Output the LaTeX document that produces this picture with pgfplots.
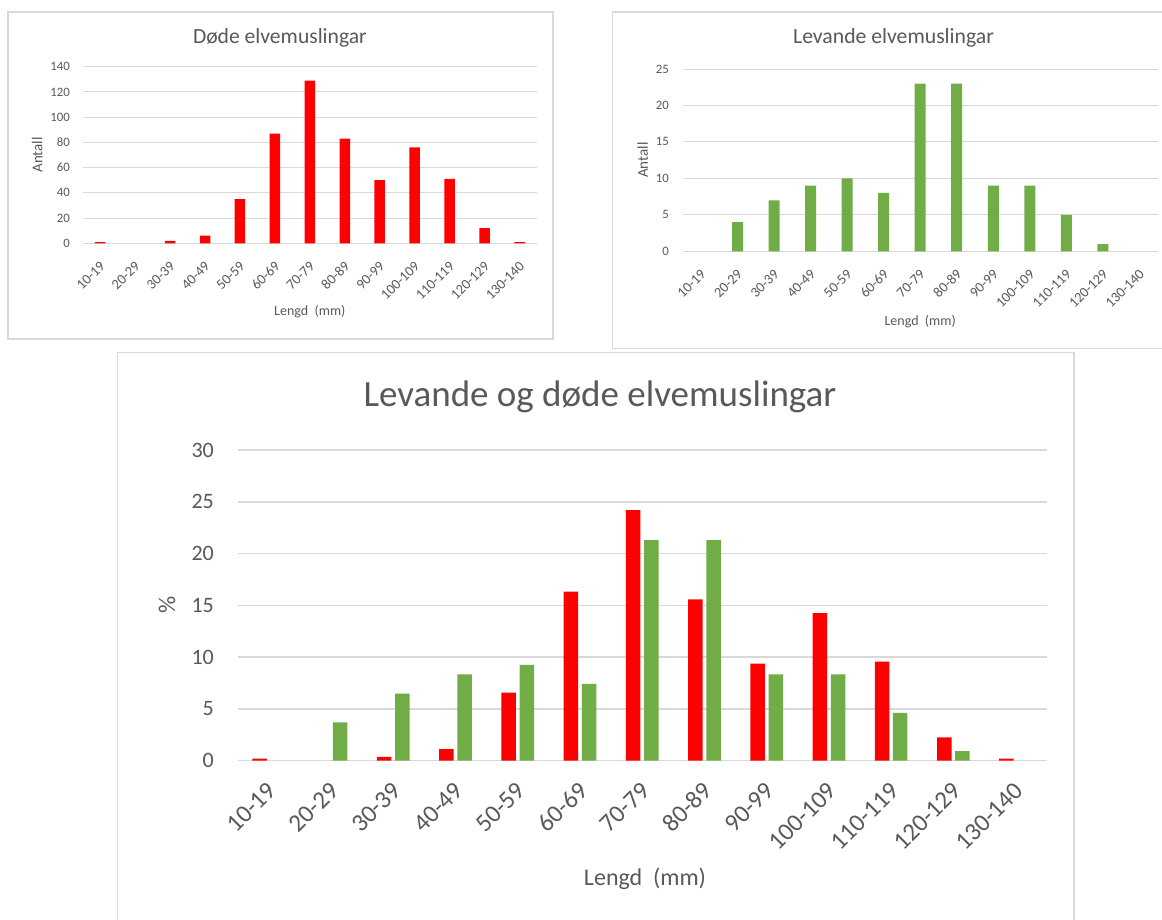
\documentclass[border=0pt]{standalone}
\usepackage{pgfplots}
\pgfplotsset{compat=1.18}
\usepackage{fontspec}
\setmainfont{Carlito}
\definecolor{txt}{HTML}{595959}
\definecolor{gridc}{HTML}{D9D9D9}
\definecolor{boxc}{HTML}{D9D9D9}
\definecolor{dred}{HTML}{FF0000}
\definecolor{lgreen}{HTML}{70AD47}

\pgfplotsset{
  mybase/.style={
    scale only axis, anchor=south west,
    xmin=-0.5, xmax=12.5, ymin=0,
    xtick={0,...,12},
    xticklabels={10-19,20-29,30-39,40-49,50-59,60-69,70-79,80-89,90-99,100-109,110-119,120-129,130-140},
    axis line style={draw=none}, tick style={draw=none},
    ymajorgrids, 
    /pgf/number format/assume math mode=true,
    ybar, 
    every axis title/.style={at={(0.5,1)}, anchor=center, text=txt},
    every axis x label/.style={at={(axis description cs:0.5,0)}, anchor=center, text=txt},
    every axis y label/.style={at={(axis description cs:0,0.5)}, anchor=center, text=txt},
  }
}

\begin{document}
\begin{tikzpicture}
\useasboundingbox (0pt,0pt) rectangle (1162pt,-920pt);
\fill[white] (0pt,0pt) rectangle (1162pt,-920pt);
% frames
\draw[boxc, line width=1.3pt] (8pt,-12pt) rectangle (553pt,-339pt);
\draw[boxc, line width=1.3pt] (612.7pt,-12pt) rectangle (1175pt,-348.5pt);
\draw[boxc, line width=1.5pt] (117.5pt,-352.7pt) rectangle (1074pt,-935pt);

% ---------- Døde ----------
\begin{axis}[mybase,
  at={(82.7pt,-243.3pt)}, width=454.3pt, height=176.6pt,
  ymax=140, ytick={0,20,...,140},
  grid style={gridc, line width=0.9pt},
  yticklabel style={font=\fontsize{12.8}{14}\selectfont, text=txt, inner sep=0pt, xshift=-12.7pt},
  xticklabel style={font=\fontsize{14.3}{16}\selectfont, text=txt, inner sep=0pt, xshift=2.5pt, yshift=-16pt, rotate=45, anchor=east},
  bar width=10.5pt,
  title={Døde elvemuslingar},
  title style={font=\fontsize{21.6}{25}\selectfont, xshift=-30pt, yshift=29pt},
  xlabel={Lengd\ \ (mm)},
  xlabel style={font=\fontsize{14}{16}\selectfont, yshift=-68.4pt},
  ylabel={Antall},
  ylabel style={font=\fontsize{15}{17}\selectfont, xshift=-45.4pt, rotate=90},
]
\addplot[fill=dred, draw=none] coordinates {(0,1) (2,2) (3,6) (4,35) (5,87) (6,129) (7,83) (8,50) (9,76) (10,51) (11,12) (12,1)};
\end{axis}

% ---------- Levande ----------
\begin{axis}[mybase,
  at={(682.7pt,-251.3pt)}, width=475pt, height=182.3pt,
  ymax=25, ytick={0,5,...,25},
  grid style={gridc, line width=0.9pt},
  yticklabel style={font=\fontsize{12.8}{14}\selectfont, text=txt, inner sep=0pt, xshift=-13.7pt},
  xticklabel style={font=\fontsize{14.3}{16}\selectfont, text=txt, inner sep=0pt, xshift=2.5pt, yshift=-16pt, rotate=45, anchor=east},
  bar width=11pt,
  title={Levande elvemuslingar},
  title style={font=\fontsize{21.7}{25}\selectfont, xshift=-26.7pt, yshift=30.7pt},
  xlabel={Lengd\ \ (mm)},
  xlabel style={font=\fontsize{14}{16}\selectfont, yshift=-70.4pt},
  ylabel={Antall},
  ylabel style={font=\fontsize{15}{17}\selectfont, xshift=-40pt, rotate=90},
]
\addplot[fill=lgreen, draw=none] coordinates {(1,4) (2,7) (3,9) (4,10) (5,8) (6,23) (7,23) (8,9) (9,9) (10,5) (11,1)};
\end{axis}

% ---------- Levande og døde (%) ----------
\begin{axis}[mybase,
  at={(237.7pt,-760.7pt)}, width=809pt, height=310.7pt,
  ymax=30, ytick={0,5,...,30},
  ybar=3.7pt,
  grid style={gridc, line width=1.5pt},
  yticklabel style={font=\fontsize{22}{25}\selectfont, text=txt, inner sep=0pt, xshift=-23.7pt},
  xticklabel style={font=\fontsize{25}{28}\selectfont, text=txt, inner sep=0pt, xshift=3.5pt, yshift=-21.5pt, rotate=45, anchor=east},
  bar width=14.5pt,
  title={Levande og døde elvemuslingar},
  title style={font=\fontsize{37}{42}\selectfont, xshift=-42.2pt, yshift=53pt},
  xlabel={Lengd\ \ (mm)},
  xlabel style={font=\fontsize{24}{28}\selectfont, xshift=2.8pt, yshift=-118.3pt},
  ylabel={\%},
  ylabel style={font=\fontsize{24}{28}\selectfont, xshift=-70.7pt, rotate=90},
]
\addplot[fill=dred, draw=none] coordinates {(0,0.19) (2,0.38) (3,1.13) (4,6.57) (5,16.32) (6,24.20) (7,15.57) (8,9.38) (9,14.26) (10,9.57) (11,2.25) (12,0.19)};
\addplot[fill=lgreen, draw=none] coordinates {(1,3.70) (2,6.48) (3,8.33) (4,9.26) (5,7.41) (6,21.30) (7,21.30) (8,8.33) (9,8.33) (10,4.63) (11,0.93)};
\end{axis}
\end{tikzpicture}
\end{document}
